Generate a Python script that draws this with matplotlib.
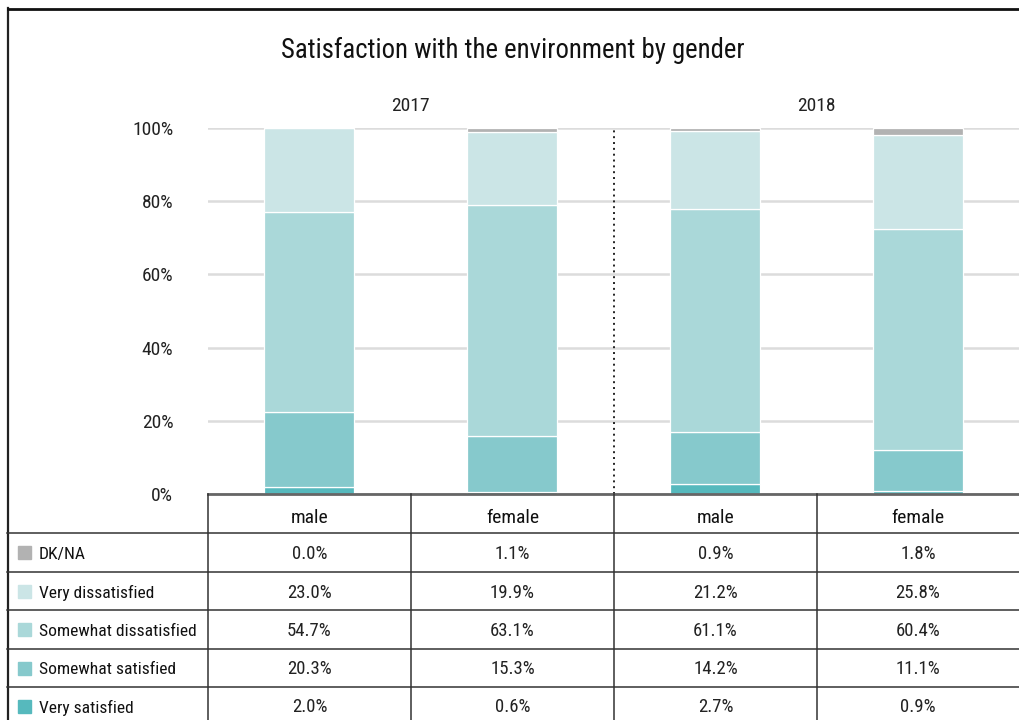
import matplotlib.pyplot as plt
from matplotlib.patches import Rectangle
from matplotlib.lines import Line2D
import numpy as np

plt.rcParams['font.family'] = ['Roboto Condensed', 'DejaVu Sans']

# Survey shares (%) per column: 2017 male, 2017 female, 2018 male, 2018 female
years = ['2017', '2018']
genders = ['male', 'female', 'male', 'female']
dk_na = [0.0, 1.1, 0.9, 1.8]
very_dissatisfied = [23.0, 19.9, 21.2, 25.8]
somewhat_dissatisfied = [54.7, 63.1, 61.1, 60.4]
somewhat_satisfied = [20.3, 15.3, 14.2, 11.1]
very_satisfied = [2.0, 0.6, 2.7, 0.9]

# bottom-to-top stacking order
series = [
    ('Very satisfied', very_satisfied, '#56b9bd'),
    ('Somewhat satisfied', somewhat_satisfied, '#86c9cc'),
    ('Somewhat dissatisfied', somewhat_dissatisfied, '#aad8d9'),
    ('Very dissatisfied', very_dissatisfied, '#cbe5e6'),
    ('DK/NA', dk_na, '#b2b2b2'),
]

W, H = 1019, 720
fig = plt.figure(figsize=(W / 100, H / 100), dpi=100)


def fx(px):
    return px / W


def fy(py):
    return 1 - py / H


# chart area
ax = fig.add_axes([fx(208), fy(494), fx(W - 208), (494 - 128) / H])
x = np.arange(len(genders))
bottom = np.zeros(len(genders))
for name, vals, col in series:
    vals = np.array(vals)
    ax.bar(x, vals, bottom=bottom, width=0.445, color=col,
           edgecolor='white', linewidth=0.9, zorder=3)
    bottom += vals

ax.set_xlim(-0.5, 3.5)
ax.set_ylim(0, 100)
ax.set_yticks(np.arange(0, 101, 20))
ax.set_yticklabels([f'{v}%' for v in range(0, 101, 20)], fontsize=14, color='#222222')
ax.tick_params(axis='y', length=0, pad=25)
ax.set_xticks([])
ax.grid(axis='y', color='#dcdcdc', linewidth=1.8, zorder=0)
for s in ax.spines.values():
    s.set_visible(False)
ax.axvline(1.5, color='#222222', linestyle=(0, (1, 2)), linewidth=1.4, zorder=4)
for i, yr in enumerate(years):
    ax.text(0.5 + 2 * i, 106, yr, ha='center', va='center', fontsize=14,
            color='#222222', clip_on=False)

fig.text(fx(513), fy(50), 'Satisfaction with the environment by gender',
         ha='center', va='center', fontsize=19.3, color='#111111')

# outer frame (left and top edges)
fig.add_artist(Line2D([fx(7.5), fx(7.5)], [fy(8), fy(720)], color='#222222', lw=1.6))
fig.add_artist(Line2D([fx(7.5), fx(W)], [fy(8.5), fy(8.5)], color='#111111', lw=2))

# table under the bars
col_edges = [208, 411, 614, 817, W]
row_edges = [494, 533, 572, 610, 649, 687]
fig.add_artist(Line2D([fx(208), fx(W)], [fy(494), fy(494)], color='#666666', lw=2))
for r in row_edges[1:]:
    fig.add_artist(Line2D([fx(7), fx(W)], [fy(r), fy(r)], color='#333333', lw=1.1))
for c in col_edges[:-1]:
    fig.add_artist(Line2D([fx(c), fx(c)], [fy(494), fy(720)], color='#333333', lw=1.1))

for j, g in enumerate(genders):
    cx = (col_edges[j] + col_edges[j + 1]) / 2
    fig.text(fx(cx), fy(518), g, ha='center', va='center', fontsize=14, color='#111111')

for i, (name, vals, col) in enumerate(reversed(series)):
    cy = (row_edges[i + 1] + (row_edges[i + 2] if i + 2 < len(row_edges) else 725)) / 2
    fig.add_artist(Rectangle((fx(18), fy(cy + 6.5)), 13 / W, 13 / H,
                             color=col, transform=fig.transFigure))
    fig.text(fx(39), fy(cy + 1.5), name, ha='left', va='center', fontsize=12.6,
             color='#111111')
    for j, v in enumerate(vals):
        cx = (col_edges[j] + col_edges[j + 1]) / 2
        fig.text(fx(cx), fy(cy + 1.5), f'{v:.1f}%', ha='center', va='center',
                 fontsize=13.5, color='#222222')

fig.savefig('out.png', dpi=100)
